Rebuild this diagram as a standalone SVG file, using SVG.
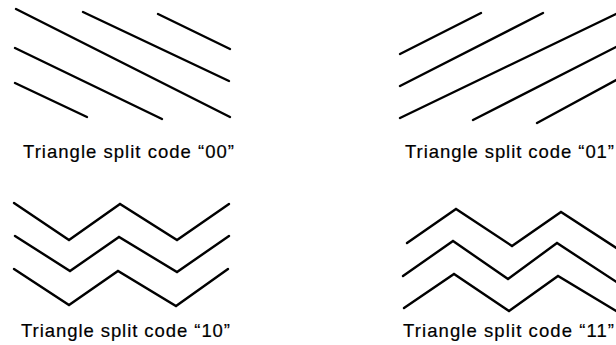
<svg xmlns="http://www.w3.org/2000/svg" width="616" height="345" viewBox="0 0 616 345">
<style>
.ln{fill:none;stroke:#000;stroke-width:2.4;stroke-linecap:round;stroke-linejoin:miter}
.lb{font-family:"Liberation Sans",Arial,Helvetica,sans-serif;font-size:18.5px;fill:#000;stroke:#000;stroke-width:0.2}
</style>
<rect width="616" height="345" fill="#fff"/>
<g id="code00">
<line class="ln" x1="16" y1="9" x2="230" y2="117"/>
<line class="ln" x1="83" y1="12" x2="229" y2="81"/>
<line class="ln" x1="158" y1="14" x2="230" y2="49"/>
<line class="ln" x1="15" y1="48" x2="162" y2="119"/>
<line class="ln" x1="15" y1="83" x2="87" y2="117"/>
<text class="lb" x="23" y="157.5" textLength="211" lengthAdjust="spacing">Triangle split code “00”</text>
</g>
<g id="code01">
<line class="ln" x1="400" y1="54" x2="481" y2="13"/>
<line class="ln" x1="400" y1="86" x2="543" y2="13"/>
<line class="ln" x1="400" y1="118" x2="618" y2="13"/>
<line class="ln" x1="473" y1="120" x2="618" y2="46"/>
<line class="ln" x1="537" y1="123" x2="618" y2="79"/>
<text class="lb" x="405" y="157.5" textLength="209" lengthAdjust="spacing">Triangle split code “01”</text>
</g>
<g id="code10">
<polyline class="ln" points="14,203 69,240 120,204 177,240 229,204"/>
<polyline class="ln" points="15,236 70,271 119,237 177,272 229,236"/>
<polyline class="ln" points="14,269 69,305 118,271 176,306 228,269"/>
<text class="lb" x="21" y="337" textLength="209" lengthAdjust="spacing">Triangle split code “10”</text>
</g>
<g id="code11">
<polyline class="ln" points="407,243 456,209 512,246 561,212 618,249"/>
<polyline class="ln" points="403,276 453,241 508,279 557,243 618,283"/>
<polyline class="ln" points="404,308 454,274 509,311 558,276 618,312"/>
<text class="lb" x="403" y="337" textLength="211" lengthAdjust="spacing">Triangle split code “11”</text>
</g>
</svg>
